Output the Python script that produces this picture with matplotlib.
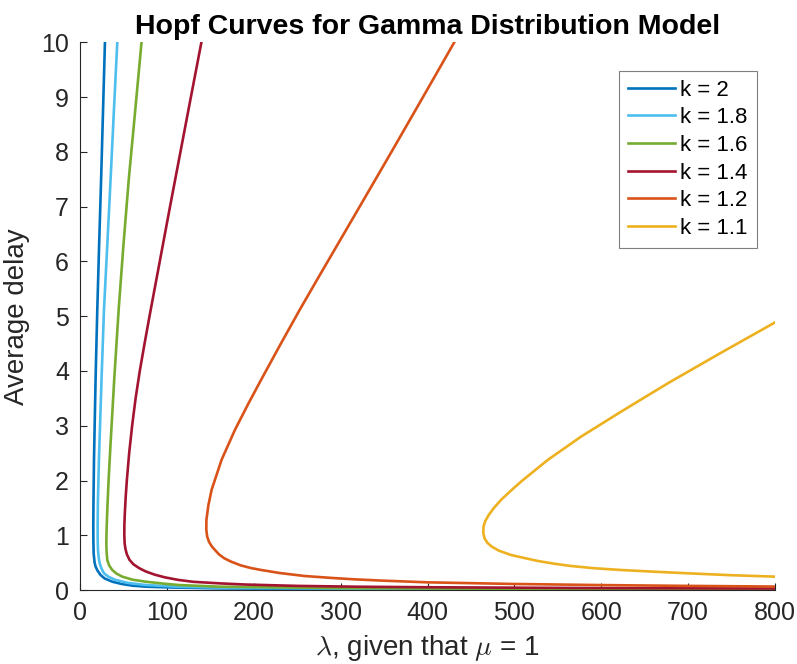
import matplotlib
matplotlib.use("Agg")
import matplotlib.pyplot as plt

plt.rcParams['font.family'] = ['Liberation Sans', 'DejaVu Sans']
plt.rcParams['mathtext.fontset'] = 'cm'

# ---- data (lambda, average delay) ----
k_labels = ["k = 2", "k = 1.8", "k = 1.6", "k = 1.4", "k = 1.2", "k = 1.1"]
colors = ["#0072BD", "#4DBEEE", "#77AC30", "#A2142F", "#D95319", "#EDB120"]

lam_k20 = [28.7, 26.5, 24.3, 22.0, 19.9, 18.0, 16.1, 15.5, 15.3, 15.4, 15.7, 16.8, 18.0, 20.3, 23.7, 28.5, 37.1, 48.0, 60.0, 75.4, 107, 159.6, 300, 500, 800, 1000]
tau_k20 = [10.0, 8.75, 7.5, 6.3, 5.12, 3.9, 2.38, 1.6, 1.16, 0.9, 0.67, 0.5, 0.426, 0.35, 0.274, 0.21, 0.152, 0.11, 0.08, 0.061, 0.045, 0.03, 0.017, 0.011, 0.007, 0.0055]

lam_k18 = [42.9, 39.0, 35.2, 31.4, 27.6, 24.9, 21.8, 20.6, 20.3, 20.4, 20.7, 21.5, 22.6, 24.5, 27.6, 33.0, 41.0, 55.0, 75.4, 112, 159.6, 300, 500, 800, 1000]
tau_k18 = [10.0, 8.75, 7.5, 6.3, 5.12, 3.9, 2.38, 1.6, 1.16, 0.9, 0.731, 0.6, 0.488, 0.4, 0.305, 0.24, 0.183, 0.13, 0.091, 0.06, 0.043, 0.025, 0.016, 0.010, 0.008]

lam_k16 = [70.8, 63.5, 56.3, 50.0, 44.5, 39.6, 35.2, 32.9, 31.4, 30.6, 30.3, 30.6, 31.4, 33.5, 37.1, 42.0, 48.6, 60.0, 75.4, 97.0, 113.7, 159.6, 300, 500, 800, 1000]
tau_k16 = [10.0, 8.75, 7.53, 6.3, 5.12, 3.9, 2.68, 2.0, 1.46, 1.1, 0.853, 0.7, 0.548, 0.45, 0.366, 0.3, 0.244, 0.19, 0.152, 0.115, 0.091, 0.061, 0.035, 0.022, 0.015, 0.012]

lam_k14 = [139.7, 127.6, 115.6, 103.6, 91.8, 80.0, 74.3, 68.8, 64.0, 60.0, 56.6, 53.9, 52.6, 51.6, 51.1, 51.0, 51.4, 52.3, 54.0, 57.0, 61.5, 68.0, 75.5, 86.0, 98.0, 113.7, 130.0, 159.6, 190, 250, 320, 400, 600, 800, 1000]
tau_k14 = [10.0, 9.0, 8.0, 7.0, 6.0, 5.0, 4.5, 4.0, 3.5, 3.0, 2.5, 2.0, 1.7, 1.4, 1.2, 1.0, 0.85, 0.75, 0.65, 0.55, 0.47, 0.40, 0.34, 0.28, 0.23, 0.183, 0.15, 0.122, 0.10, 0.075, 0.06, 0.05, 0.035, 0.027, 0.022]

lam_k12 = [430.7, 407.3, 384.2, 359.9, 335.4, 314.5, 293.2, 273.0, 253.0, 230.5, 208.5, 194.0, 178.5, 163.0, 151.5, 147.8, 145.5, 145.4, 146.4, 148.5, 152.0, 156.0, 160.0, 166.0, 173.9, 185.0, 197.0, 208.4, 230.0, 258.2, 290.0, 315.7, 350, 400, 500, 600, 700, 800, 1000]
tau_k12 = [10.0, 9.35, 8.71, 8.04, 7.37, 6.8, 6.22, 5.67, 5.12, 4.48, 3.84, 3.41, 2.93, 2.38, 1.83, 1.55, 1.28, 1.1, 0.975, 0.88, 0.79, 0.72, 0.65, 0.58, 0.518, 0.45, 0.40, 0.366, 0.31, 0.256, 0.22, 0.195, 0.17, 0.14, 0.11, 0.09, 0.075, 0.063, 0.05]

lam_k11 = [800, 738.5, 676.9, 623.1, 576.9, 538.5, 507.7, 495.0, 484.6, 476.5, 470.5, 466.5, 464.5, 464.2, 465.6, 469.0, 474.0, 482.0, 496.0, 507.0, 527.0, 546.0, 565.0, 590.0, 622.0, 660.0, 700.0, 750.0, 800]
tau_k11 = [4.887, 4.339, 3.778, 3.26, 2.803, 2.377, 1.98, 1.8, 1.645, 1.5, 1.371, 1.26, 1.158, 1.05, 0.945, 0.86, 0.792, 0.72, 0.64, 0.60, 0.53, 0.48, 0.439, 0.40, 0.366, 0.335, 0.305, 0.27, 0.244]

series = [(lam_k20, tau_k20), (lam_k18, tau_k18), (lam_k16, tau_k16),
          (lam_k14, tau_k14), (lam_k12, tau_k12), (lam_k11, tau_k11)]

x_ticks = [0, 100, 200, 300, 400, 500, 600, 700, 800]
y_ticks = [0, 1, 2, 3, 4, 5, 6, 7, 8, 9, 10]

# ---- figure ----
W, H = 797, 664
fig = plt.figure(figsize=(W / 100, H / 100), dpi=100)
ax = fig.add_axes([80 / W, 1 - 590 / H, (775 - 80) / W, (590 - 42.5) / H])

for (lam, tau), c, lab in zip(series, colors, k_labels):
    ax.plot(lam, tau, color=c, lw=1.9, label=lab, solid_joinstyle='round')

ax.set_xlim(0, 800)
ax.set_ylim(0, 10)
ax.set_xticks(x_ticks)
ax.set_yticks(y_ticks)

axc = '#262626'
for s in ['top', 'right']:
    ax.spines[s].set_visible(False)
for s in ['left', 'bottom']:
    ax.spines[s].set_color(axc)
    ax.spines[s].set_linewidth(0.8)
ax.tick_params(direction='in', length=5, width=0.8, colors=axc, labelsize=18, pad=8)

ax.set_xlabel(r'$\lambda$, given that $\mu$ = 1', fontsize=20, color=axc, labelpad=6)
ax.set_ylabel('Average delay', fontsize=20, color=axc, labelpad=8)
ax.set_title('Hopf Curves for Gamma Distribution Model', fontsize=20.5, fontweight='bold', pad=6)

leg = ax.legend(loc='upper right', bbox_to_anchor=(756.7 / W, 1 - 70.7 / H),
                bbox_transform=fig.transFigure, borderaxespad=0, fancybox=False,
                edgecolor='#7f7f7f', framealpha=1, fontsize=16, handlelength=2.1,
                handletextpad=0.25, labelspacing=0.3, borderpad=0.4)
leg.get_frame().set_linewidth(0.8)

fig.savefig('out.png', dpi=100)
